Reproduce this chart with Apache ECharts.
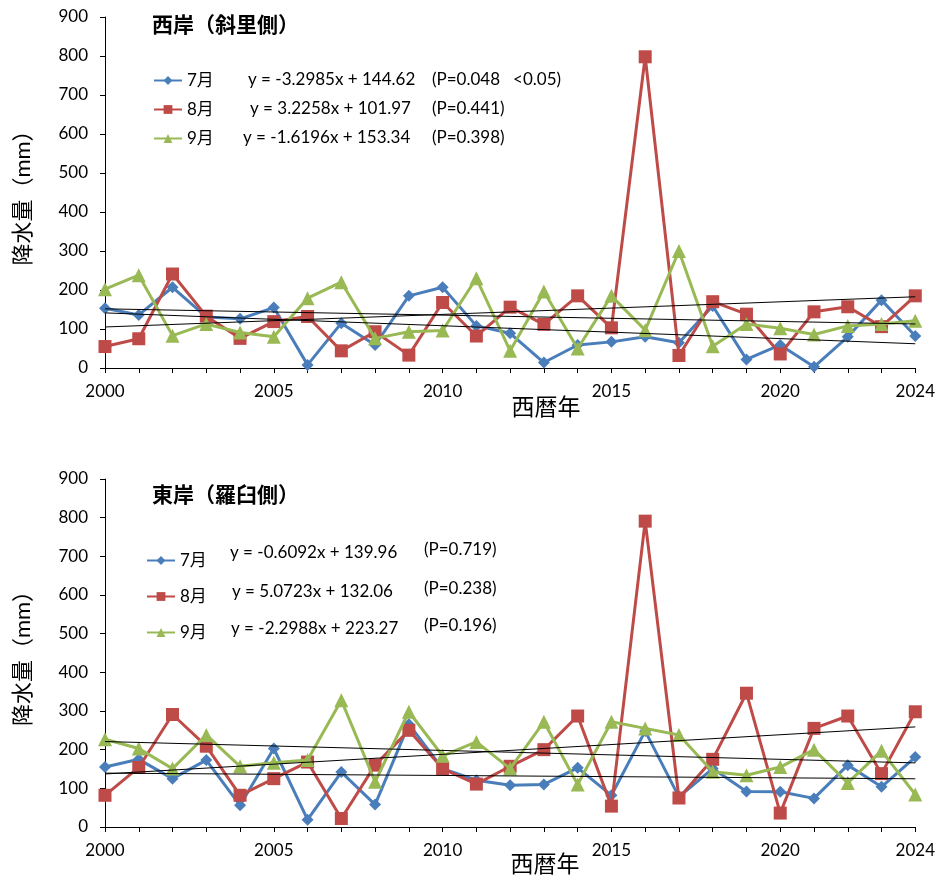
<!DOCTYPE html>
<html>
<head>
<meta charset="utf-8">
<script src="https://cdn.jsdelivr.net/npm/echarts@6/dist/echarts.min.js"></script>
<style>
html, body { margin: 0; padding: 0; background: #fff; }
#main { width: 938px; height: 879px; }
</style>
</head>
<body>
<div id="main"></div>
<script>
var years = [];
for (var y = 2000; y <= 2024; y++) years.push(String(y));

// 西岸（斜里側）
var westJul = [153, 136, 207, 131, 126, 155, 8, 115, 59, 185, 207, 108, 89, 14, 59, 67, 80, 65, 159, 22, 59, 3, 80, 174, 82];
var westAug = [55, 75, 241, 133, 76, 119, 132, 44, 93, 33, 168, 82, 156, 112, 185, 103, 798, 32, 170, 138, 36, 144, 157, 106, 185];
var westSep = [202, 238, 83, 113, 91, 80, 179, 220, 76, 93, 96, 230, 44, 196, 50, 185, 97, 300, 56, 113, 102, 86, 108, 113, 121];
// 東岸（羅臼側）
var eastJul = [155, 175, 125, 173, 56, 203, 19, 142, 58, 266, 151, 121, 108, 110, 153, 82, 248, 78, 151, 92, 91, 74, 160, 104, 181];
var eastAug = [82, 154, 291, 209, 82, 125, 168, 22, 160, 250, 151, 111, 157, 200, 287, 54, 791, 75, 175, 346, 36, 255, 287, 138, 298];
var eastSep = [227, 203, 151, 238, 157, 166, 173, 328, 117, 298, 184, 220, 151, 272, 110, 272, 255, 238, 143, 134, 155, 200, 114, 197, 84];

// 近似直線 y = a*x + b (x = 1..25)
var westSlope = [-3.2985, 3.2258, -1.6196];
var westIntercept = [144.62, 101.97, 153.34];
var eastSlope = [-0.6092, 5.0723, -2.2988];
var eastIntercept = [139.96, 132.06, 223.27];

var westEq = ['y = -3.2985x + 144.62', 'y = 3.2258x + 101.97', 'y = -1.6196x + 153.34'];
var westP = ['(P=0.048   <0.05)', '(P=0.441)', '(P=0.398)'];
var eastEq = ['y = -0.6092x + 139.96', 'y = 5.0723x + 132.06', 'y = -2.2988x + 223.27'];
var eastP = ['(P=0.719)', '(P=0.238)', '(P=0.196)'];

var months = ['7月', '8月', '9月'];
var colors = ['#4a7ebb', '#be4b48', '#98b954'];
var symbols = ['diamond', 'rect', 'triangle'];
var symbolSizes = [12, 13, 14];

var FONT = 'Lato, "Noto Sans CJK JP", sans-serif';

function trendData(a, b) {
    var d = [];
    for (var i = 0; i < years.length; i++) {
        d.push((i === 0 || i === years.length - 1) ? a * (i + 1) + b : null);
    }
    return d;
}

function xAxisOf(gridIndex) {
    return {
        type: 'category', gridIndex: gridIndex, data: years, boundaryGap: false,
        axisLine: { lineStyle: { color: '#000', width: 1 } },
        axisTick: { show: true, interval: 0, length: 5, lineStyle: { color: '#000' } },
        axisLabel: {
            color: '#000', fontSize: 17, fontFamily: FONT, margin: 15,
            interval: function (idx) { return idx % 5 === 0 || idx === 24; }
        },
        splitLine: { show: false }
    };
}

function yAxisOf(gridIndex) {
    return {
        type: 'value', gridIndex: gridIndex, min: 0, max: 900, interval: 100,
        name: '降水量（mm）', nameLocation: 'middle', nameGap: 71, nameRotate: 90,
        nameTextStyle: { fontSize: 22, color: '#000', fontFamily: FONT },
        axisLine: { show: true, lineStyle: { color: '#000', width: 1 } },
        axisTick: { show: true, length: 5, lineStyle: { color: '#000' } },
        axisLabel: { color: '#000', fontSize: 17, fontFamily: FONT, margin: 17 },
        splitLine: { show: false }
    };
}

var series = [];
[[westJul, westAug, westSep], [eastJul, eastAug, eastSep]].forEach(function (group, g) {
    group.forEach(function (vals, k) {
        series.push({
            name: months[k], type: 'line', xAxisIndex: g, yAxisIndex: g,
            data: vals, symbol: symbols[k], symbolSize: symbolSizes[k],
            itemStyle: { color: colors[k] },
            lineStyle: { color: colors[k], width: 3 },
            z: 2 + k
        });
    });
});
[[westSlope, westIntercept], [eastSlope, eastIntercept]].forEach(function (c, g) {
    for (var k = 0; k < 3; k++) {
        series.push({
            name: 'trend' + g + k, type: 'line', xAxisIndex: g, yAxisIndex: g,
            data: trendData(c[0][k], c[1][k]), connectNulls: true, showSymbol: false,
            symbol: 'none', lineStyle: { color: '#000', width: 1 }, z: 6, silent: true
        });
    }
});

function legendOf(left, top, gap) {
    return {
        data: months, orient: 'vertical', left: left, top: top, itemGap: gap,
        itemWidth: 28, itemHeight: 11, selectedMode: false,
        textStyle: { fontSize: 17, color: '#000', fontFamily: FONT }
    };
}

var graphics = [
    { type: 'text', left: 152, top: 15, style: { text: '西岸（斜里側）', font: 'bold 21px ' + FONT, fill: '#000' } },
    { type: 'text', left: 152, top: 485, style: { text: '東岸（羅臼側）', font: 'bold 21px ' + FONT, fill: '#000' } },
    { type: 'text', x: 546, y: 408, style: { text: '西暦年', font: '23px ' + FONT, fill: '#000', align: 'center', verticalAlign: 'middle' } },
    { type: 'text', x: 545, y: 865, style: { text: '西暦年', font: '23px ' + FONT, fill: '#000', align: 'center', verticalAlign: 'middle' } }
];
var westRows = [80, 109, 138], westEqX = [248, 250, 243];
var eastRows = [553, 592, 629], eastEqX = [230, 232, 231];
for (var k = 0; k < 3; k++) {
    graphics.push({ type: 'text', x: westEqX[k], y: westRows[k], style: { text: westEq[k], font: '17px ' + FONT, fill: '#000', verticalAlign: 'middle' } });
    graphics.push({ type: 'text', x: 432, y: westRows[k], style: { text: westP[k], font: '17px ' + FONT, fill: '#000', verticalAlign: 'middle' } });
    graphics.push({ type: 'text', x: eastEqX[k], y: eastRows[k], style: { text: eastEq[k], font: '17px ' + FONT, fill: '#000', verticalAlign: 'middle' } });
    graphics.push({ type: 'text', x: 424, y: eastRows[k] - 3, style: { text: eastP[k], font: '17px ' + FONT, fill: '#000', verticalAlign: 'middle' } });
}

var myChart = echarts.init(document.getElementById('main'));
myChart.setOption({
    animation: false,
    backgroundColor: '#fff',
    grid: [
        { left: 105, right: 21, top: 17, height: 351 },
        { left: 105, right: 21, top: 479, height: 348 }
    ],
    legend: [legendOf(148, 67, 12), legendOf(141, 547, 19)],
    xAxis: [xAxisOf(0), xAxisOf(1)],
    yAxis: [yAxisOf(0), yAxisOf(1)],
    series: series,
    graphic: graphics
});
</script>
</body>
</html>
